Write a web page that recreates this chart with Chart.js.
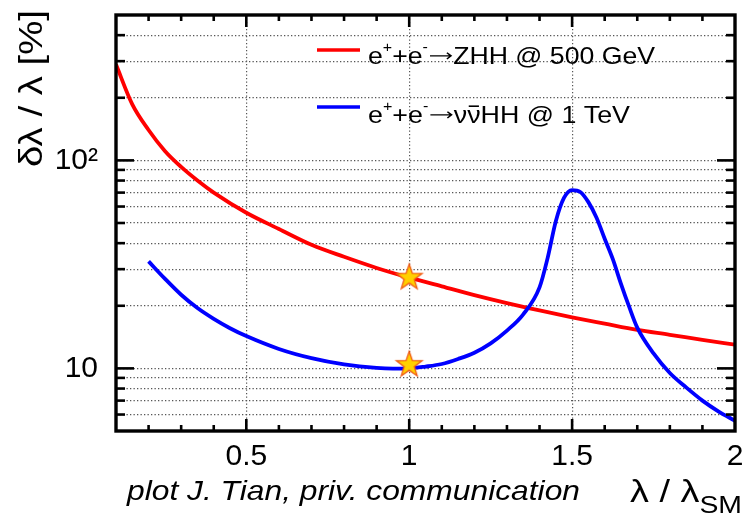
<!DOCTYPE html>
<html>
<head>
<meta charset="utf-8">
<script src="https://cdn.jsdelivr.net/npm/chart.js@4.4.1/dist/chart.umd.min.js"></script>
<style>
  html, body { margin: 0; padding: 0; background: #fff; }
  canvas { display: block; }
</style>
</head>
<body>
<canvas id="c" width="750" height="516"></canvas>
<script>
// Relative precision on the Higgs self-coupling vs. lambda / lambda_SM
const lambdaZHH = [0.1, 0.15, 0.2, 0.25, 0.3, 0.35, 0.4, 0.5, 0.6, 0.7, 0.8, 0.9, 1.0,
                   1.1, 1.2, 1.3, 1.4, 1.5, 1.6, 1.7, 1.8, 1.9, 2.0];
const precisionZHH = [289, 186, 140, 111, 93, 80, 70, 56, 46.8, 39.3, 34.4, 30.4, 27.3,
                      24.8, 22.5, 20.6, 19.0, 17.6, 16.4, 15.3, 14.5, 13.7, 13.0];

const lambdaVVHH = [0.2, 0.25, 0.3, 0.35, 0.4, 0.45, 0.5, 0.6, 0.7, 0.8, 0.9, 0.95, 1.0,
                    1.05, 1.1, 1.15, 1.2, 1.25, 1.3, 1.35, 1.4, 1.425, 1.45, 1.475, 1.5,
                    1.525, 1.55, 1.575, 1.6, 1.625, 1.65, 1.675, 1.7, 1.75, 1.8, 1.85,
                    1.9, 1.95, 2.0];
const precisionVVHH = [32.7, 27.0, 22.6, 19.5, 17.3, 15.6, 14.3, 12.4, 11.2, 10.45, 10.05, 9.98, 10.0,
                       10.2, 10.5, 11.1, 11.9, 13.2, 15.2, 18.2, 24.5, 34, 51, 66, 72,
                       70.5, 63, 53, 42, 33.5, 25.5, 19.8, 15.7, 11.8, 9.5, 8.1,
                       7.0, 6.2, 5.6];

// Standard Model points
const smLambda = [1, 1];
const smPrecision = [27.3, 10.4];

// Axis ticks
const xTickValues = [0.1, 0.2, 0.3, 0.4, 0.5, 0.6, 0.7, 0.8, 0.9, 1, 1.1, 1.2, 1.3, 1.4, 1.5,
                     1.6, 1.7, 1.8, 1.9, 2];
const xMajorValues = [0.5, 1, 1.5, 2];
const xTickLabels = ['0.5', '1', '1.5', '2'];
const yTickValues = [5, 6, 7, 8, 9, 10, 20, 30, 40, 50, 60, 70, 80, 90, 100, 200, 300, 400, 500];
const yMajorValues = [10, 100];
const yTickLabels = ['10', '10²'];

const FAMILY = '"Liberation Sans", Arial, Helvetica, sans-serif';
const GRID = '#555555';
const NONE = 'rgba(0,0,0,0)';

function toPoints(xs, ys) { return xs.map((x, i) => ({ x: x, y: ys[i] })); }

function makeStar(R) {
  const c = document.createElement('canvas');
  const s = 2 * Math.ceil(R + 2);
  c.width = s; c.height = s;
  const g = c.getContext('2d');
  g.translate(s / 2, s / 2);
  g.beginPath();
  for (let i = 0; i < 10; i++) {
    const r = i % 2 ? R * 0.4 : R;
    const a = -Math.PI / 2 + i * Math.PI / 5;
    g.lineTo(r * Math.cos(a), r * Math.sin(a));
  }
  g.closePath();
  g.fillStyle = '#FFD000';
  g.fill();
  g.strokeStyle = '#F05A14';
  g.lineWidth = 1.3;
  g.stroke();
  return c;
}

// Draws a run of text pieces (super/subscripts, arrows, bars), stretched to a given width
function rich(ctx, parts, x, y, size, width, italic) {
  const fontFor = s => (italic ? 'italic ' : '') + s + 'px ' + FAMILY;
  let total = 0;
  const items = parts.map(p => {
    const s = size * (p.k || 1);
    let w;
    if (p.arrow) {
      w = p.arrow * size;
    } else {
      ctx.font = fontFor(s);
      w = ctx.measureText(p.t).width;
    }
    total += w;
    return Object.assign({}, p, { s: s, w: w });
  });
  const sx = width ? width / total : 1;
  ctx.save();
  ctx.translate(x, y);
  ctx.scale(sx, 1);
  ctx.fillStyle = '#000';
  ctx.strokeStyle = '#000';
  ctx.textAlign = 'left';
  ctx.textBaseline = 'alphabetic';
  let cx = 0;
  items.forEach(it => {
    if (it.arrow) {
      const ay = -0.34 * size, x0 = cx + 0.08 * size, x1 = cx + it.w - 0.08 * size, h = 0.13 * size;
      ctx.lineWidth = 1.4;
      ctx.beginPath();
      ctx.moveTo(x0, ay); ctx.lineTo(x1, ay);
      ctx.moveTo(x1 - h * 1.2, ay - h); ctx.lineTo(x1, ay); ctx.lineTo(x1 - h * 1.2, ay + h);
      ctx.stroke();
    } else {
      ctx.font = fontFor(it.s);
      ctx.fillText(it.t, cx, (it.dy || 0) * size);
      if (it.bar) {
        ctx.lineWidth = 1.6;
        ctx.beginPath();
        ctx.moveTo(cx + it.w * 0.12, -size * 0.7);
        ctx.lineTo(cx + it.w * 0.88, -size * 0.7);
        ctx.stroke();
      }
    }
    cx += it.w;
  });
  ctx.restore();
}

const decorations = {
  id: 'decorations',
  afterDraw(chart) {
    const { ctx, chartArea: a, scales } = chart;
    const xs = scales.x, ys = scales.y;
    ctx.save();
    ctx.strokeStyle = '#000';
    ctx.lineCap = 'butt';
    ctx.lineWidth = 2.6;
    const seg = (x1, y1, x2, y2) => { ctx.beginPath(); ctx.moveTo(x1, y1); ctx.lineTo(x2, y2); ctx.stroke(); };

    // inward tick marks on all four sides
    xTickValues.forEach(v => {
      if (v <= xs.min || v >= xs.max) return;
      const px = xs.getPixelForValue(v);
      const len = xMajorValues.includes(v) ? 12 : 6;
      seg(px, a.bottom, px, a.bottom - len);
      seg(px, a.top, px, a.top + len);
    });
    yTickValues.forEach(v => {
      if (v <= ys.min || v >= ys.max) return;
      const py = ys.getPixelForValue(v);
      const len = yMajorValues.includes(v) ? 18 : 9;
      seg(a.left, py, a.left + len, py);
      seg(a.right, py, a.right - len, py);
    });

    // frame
    ctx.lineWidth = 3.4;
    ctx.strokeRect(a.left, a.top, a.right - a.left, a.bottom - a.top);

    // legend
    const sup = (t) => ({ t: t, k: 0.6, dy: -0.48 });
    const legend = [
      { color: '#ff0000', y: 50, base: 64, width: 287,
        parts: [{ t: 'e' }, sup('+'), { t: '+e' }, sup('-'), { arrow: 0.95 }, { t: 'ZHH @ 500 GeV' }] },
      { color: '#0000ff', y: 107, base: 123, width: 262,
        parts: [{ t: 'e' }, sup('+'), { t: '+e' }, sup('-'), { arrow: 0.95 }, { t: '\u03bd' },
                { t: '\u03bd', bar: true }, { t: 'HH @ 1 TeV' }] }
    ];
    legend.forEach(e => {
      ctx.strokeStyle = e.color;
      ctx.lineWidth = 3.5;
      seg(317, e.y, 360, e.y);
      rich(ctx, e.parts, 368, e.base, 24, e.width, false);
    });

    // axis titles
    rich(ctx, [{ t: '\u03bb / \u03bb' }, { t: 'SM', k: 0.75, dy: 0.34 }], 630, 502, 32, 112, false);
    ctx.save();
    ctx.translate(42, 167);
    ctx.rotate(-Math.PI / 2);
    rich(ctx, [{ t: '\u03b4\u03bb / \u03bb [%]' }], 0, 0, 34, 157, false);
    ctx.restore();

    // credit line
    rich(ctx, [{ t: 'plot J. Tian, priv. communication' }], 127, 500, 28, 453, true);
    ctx.restore();
  }
};

new Chart(document.getElementById('c'), {
  type: 'line',
  data: {
    datasets: [
      {
        label: 'SM',
        data: toPoints(smLambda, smPrecision),
        showLine: false,
        pointStyle: makeStar(13.5),
        pointRadius: 14,
        order: 0
      },
      {
        label: 'e+e- -> nu nubar HH @ 1 TeV',
        data: toPoints(lambdaVVHH, precisionVVHH),
        borderColor: '#0000ff',
        borderWidth: 3.8,
        pointRadius: 0,
        fill: false,
        cubicInterpolationMode: 'monotone',
        order: 1
      },
      {
        label: 'e+e- -> ZHH @ 500 GeV',
        data: toPoints(lambdaZHH, precisionZHH),
        borderColor: '#ff0000',
        borderWidth: 3.8,
        pointRadius: 0,
        fill: false,
        cubicInterpolationMode: 'monotone',
        order: 2
      }
    ]
  },
  options: {
    responsive: false,
    devicePixelRatio: 1,
    animation: false,
    layout: { padding: { top: 10, right: 10, left: 0, bottom: 0 } },
    plugins: { legend: { display: false }, tooltip: { enabled: false } },
    scales: {
      x: {
        type: 'linear',
        min: 0.1,
        max: 2.0,
        afterBuildTicks: s => { s.ticks = xTickValues.map(v => ({ value: v })); },
        afterFit: s => { s.height = 85; s.paddingLeft = 0; s.paddingRight = 0; },
        grid: {
          drawTicks: false,
          lineWidth: 1.2,
          color: c => (c.tick && xMajorValues.includes(c.tick.value) && c.tick.value < 2) ? GRID : NONE
        },
        border: { display: false, dash: [1.3, 2.2] },
        ticks: {
          autoSkip: false,
          maxRotation: 0,
          padding: 8,
          color: '#000',
          font: { family: FAMILY, size: 30 },
          callback: v => { const i = xMajorValues.indexOf(v); return i >= 0 ? xTickLabels[i] : ''; }
        }
      },
      y: {
        type: 'logarithmic',
        min: 5,
        max: 500,
        afterBuildTicks: s => { s.ticks = yTickValues.map(v => ({ value: v })); },
        afterFit: s => { s.width = 116; s.paddingTop = 0; s.paddingBottom = 0; },
        grid: {
          drawTicks: false,
          lineWidth: 1.2,
          color: c => (c.tick && c.tick.value > 5 && c.tick.value < 500) ? GRID : NONE
        },
        border: { display: false, dash: [1.3, 2.2] },
        ticks: {
          autoSkip: false,
          padding: 18,
          color: '#000',
          font: { family: FAMILY, size: 30 },
          callback: v => { const i = yMajorValues.indexOf(v); return i >= 0 ? yTickLabels[i] : ''; }
        }
      }
    }
  },
  plugins: [decorations]
});
</script>
</body>
</html>
